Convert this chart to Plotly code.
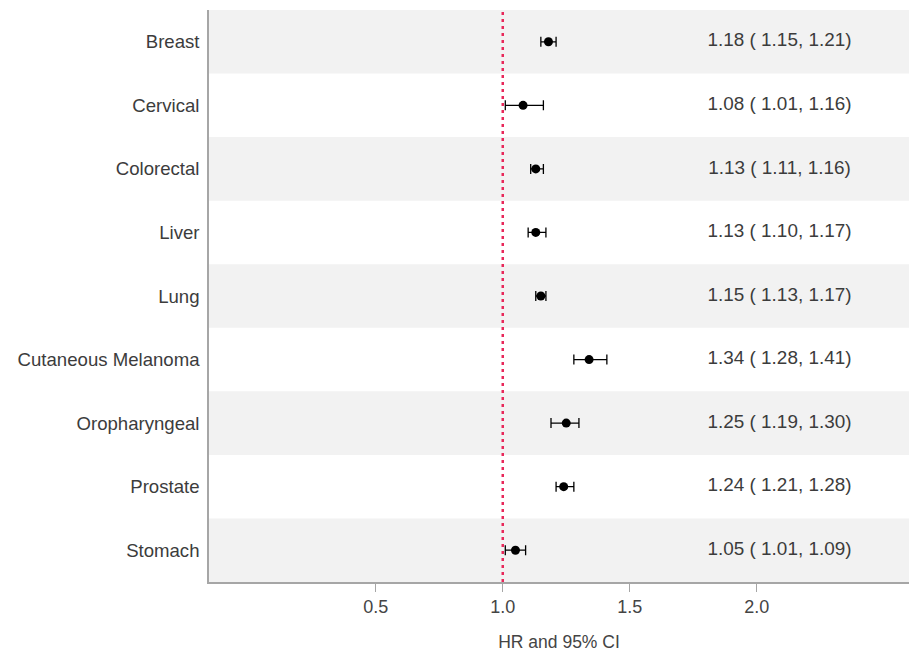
import plotly.graph_objects as go

cancers = ["Breast", "Cervical", "Colorectal", "Liver", "Lung",
           "Cutaneous Melanoma", "Oropharyngeal", "Prostate", "Stomach"]
hr = [1.18, 1.08, 1.13, 1.13, 1.15, 1.34, 1.25, 1.24, 1.05]
ci_low = [1.15, 1.01, 1.11, 1.10, 1.13, 1.28, 1.19, 1.21, 1.01]
ci_high = [1.21, 1.16, 1.16, 1.17, 1.17, 1.41, 1.30, 1.28, 1.09]
x_ticks = [0.5, 1.0, 1.5, 2.0]
ref_value = 1.0

FONT = "Liberation Sans, Arial"

ypos = list(range(len(cancers)))
labels = [f"{h:.2f} ( {l:.2f}, {u:.2f})" for h, l, u in zip(hr, ci_low, ci_high)]

fig = go.Figure()

shapes = []
for i in ypos:
    if i % 2 == 0:
        shapes.append(dict(type="rect", xref="paper", yref="y", x0=0, x1=1,
                           y0=i - 0.5, y1=i + 0.5, fillcolor="#f2f2f2",
                           line=dict(width=0), layer="below"))
shapes.append(dict(type="line", xref="x", yref="paper", x0=ref_value, x1=ref_value,
                   y0=0, y1=1, line=dict(color="#e8285a", width=2.5, dash="3px,4px"),
                   layer="above"))

fig.add_trace(go.Scatter(
    x=hr, y=ypos, mode="markers",
    marker=dict(color="black", size=9),
    error_x=dict(type="data", symmetric=False,
                 array=[u - h for u, h in zip(ci_high, hr)],
                 arrayminus=[h - l for h, l in zip(hr, ci_low)],
                 color="black", thickness=1.3, width=5),
    showlegend=False, hoverinfo="skip"))

fig.add_trace(go.Scatter(
    x=[2.09] * len(cancers), y=ypos, mode="text", text=labels,
    textposition="middle center",
    textfont=dict(family=FONT, size=18.9, color="#3c3c3c"),
    showlegend=False, hoverinfo="skip"))

fig.update_layout(
    width=909, height=653,
    margin=dict(l=209, r=0, t=10, b=71),
    plot_bgcolor="white", paper_bgcolor="white",
    shapes=shapes,
    font=dict(family=FONT, color="#3c3c3c"),
    xaxis=dict(range=[-0.157, 2.6], tickvals=x_ticks,
               ticktext=[f"{v:.1f}" for v in x_ticks],
               showgrid=False, zeroline=False, automargin=False,
               showline=True, linecolor="#a6a6a6", linewidth=1.5,
               ticks="outside", ticklen=8, tickcolor="#a6a6a6",
               tickfont=dict(size=18, color="#444444"),
               title=dict(text="HR and 95% CI", font=dict(size=17.5, color="#444444"),
                          standoff=19)),
    yaxis=dict(range=[len(cancers) - 0.5, -0.5], tickvals=ypos, ticktext=cancers,
               showgrid=False, zeroline=False, automargin=False,
               showline=True, linecolor="#a6a6a6", linewidth=1.5,
               ticks="", ticklabelstandoff=4,
               tickfont=dict(size=18.6, color="#3c3c3c")),
)

fig.write_html("out.html", config={"displayModeBar": False},
               post_script="document.body.style.margin='0';")
